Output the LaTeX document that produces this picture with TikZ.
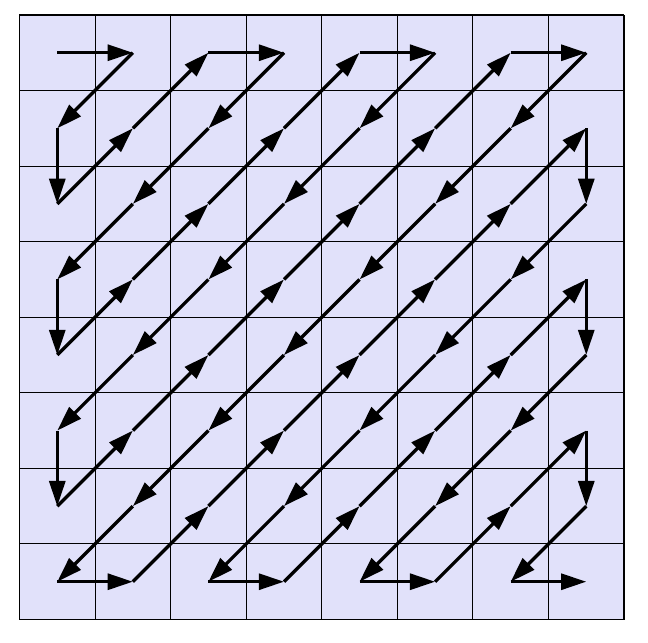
\documentclass[tikz,border=0pt]{standalone}
\usetikzlibrary{arrows.meta}
\definecolor{cellfill}{RGB}{225,225,250}
\begin{document}
\begin{tikzpicture}[x=1cm,y=1cm,
  gridline/.style={draw=black,line width=0.4pt},
  scanarrow/.style={-{Triangle[length=9.5pt,width=6pt]},line width=1.25pt}]
\useasboundingbox (-0.258,-0.304) rectangle (8.317,8.198);
\fill[cellfill] (0,0) rectangle (8,8);
\draw[gridline] (0,0) grid (8,8);
\foreach \r in {0,...,7}
  \foreach \c in {0,...,7}
    \coordinate (c\r\c) at (\c+0.5,7.5-\r);
\foreach \p [remember=\p as \q (initially 00)] in
  {01,10,20,11,02,03,12,21,30,40,31,22,13,04,05,14,23,32,41,50,
   60,51,42,33,24,15,06,07,16,25,34,43,52,61,70,71,62,53,44,35,26,17,
   27,36,45,54,63,72,73,64,55,46,37,47,56,65,74,75,66,57,67,76,77}
  \draw[scanarrow] (c\q) -- (c\p);
\end{tikzpicture}
\end{document}
